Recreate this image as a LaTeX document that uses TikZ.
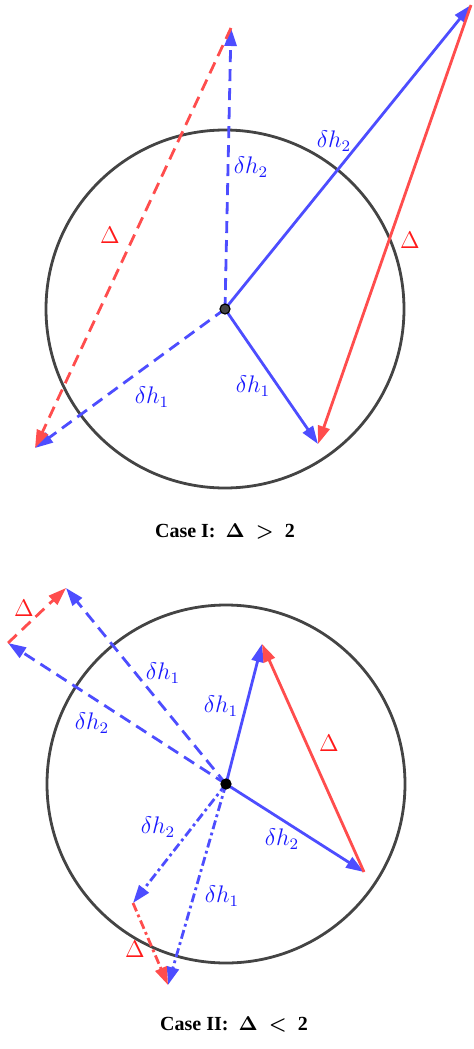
\documentclass[tikz,border=0pt]{standalone}
\usepackage{amsmath,amssymb}
\usepackage{fontspec}
\setmainfont{Liberation Serif}
\usetikzlibrary{arrows.meta}
\definecolor{Bc}{HTML}{4D4DFF}
\definecolor{Rc}{HTML}{FF4D4D}
\definecolor{Bt}{HTML}{1A1AFF}
\definecolor{Rt}{HTML}{FF1A1A}
\definecolor{rimc}{HTML}{444444}
\tikzset{
  vec/.style={-{Triangle[length=9pt, width=6pt]}, line width=1.4pt},
  bv/.style={vec, Bc},
  rv/.style={vec, Rc},
  dsh/.style={dash pattern=on 6pt off 3.5pt},
  dsd/.style={dash pattern=on 4.5pt off 1.8pt on 1.4pt off 1.8pt},
  rim/.style={draw=rimc, line width=1.4pt},
  hub/.style={circle, fill=#1, draw=black, line width=0.6pt, inner sep=0pt, minimum size=5pt},
  hub/.default=black,
  bl/.style={text=Bt, font=\large, inner sep=0pt},
  rl/.style={text=Rt, font=\large, inner sep=0pt},
  captxt/.style={font=\normalsize, text=black, inner sep=0pt},
}
\newcommand{\casehead}[2]{{\bfseries Case #1:}~~$\boldsymbol{\Delta}\;\boldsymbol{#2}\;\mathbf{2}$}

\begin{document}
\begin{tikzpicture}[x=0.5pt, y=-0.5pt]
  \useasboundingbox (0,0) rectangle (473,1049);
  % Case I
  \coordinate (o1) at (225,309);
  \coordinate (a1) at (318,444);
  \coordinate (b1) at (471,5);
  \coordinate (a1n) at (35,448);
  \coordinate (b1n) at (231,28);
  \draw[rim] (o1) circle[radius=179];
  \draw[bv] (o1) -- (a1);
  \draw[bv] (o1) -- (b1);
  \draw[rv] (b1) -- (a1);
  \draw[bv, dsh] (o1) -- (a1n);
  \draw[bv, dsh] (o1) -- (b1n);
  \draw[rv, dsh] (b1n) -- (a1n);
  \node[hub=rimc] (h1) at (o1) {};
  \node[bl] (la1) at (253,386) {$\delta h_1$};
  \node[bl] (lb1) at (334,141) {$\delta h_2$};
  \node[rl] (ld1) at (410,240) {$\Delta$};
  \node[bl] (la1n) at (152,397) {$\delta h_1$};
  \node[bl] (lb1n) at (251,167) {$\delta h_2$};
  \node[rl] (ld1n) at (110,235) {$\Delta$};
  \node[captxt] (t1) at (225,531) {\casehead{I}{>}};
  % Case II
  \coordinate (o2) at (226,784);
  \coordinate (a2) at (262,644);
  \coordinate (b2) at (364,872);
  \coordinate (a2n) at (66,588);
  \coordinate (b2n) at (8,643);
  \coordinate (a2d) at (168,985);
  \coordinate (b2d) at (133,903);
  \draw[rim] (o2) circle[radius=179];
  \draw[bv] (o2) -- (a2);
  \draw[bv] (o2) -- (b2);
  \draw[rv] (b2) -- (a2);
  \draw[bv, dsh] (o2) -- (a2n);
  \draw[bv, dsh] (o2) -- (b2n);
  \draw[rv, dsh] (b2n) -- (a2n);
  \draw[bv, dsd] (o2) -- (a2d);
  \draw[bv, dsd] (o2) -- (b2d);
  \draw[rv, dsd] (b2d) -- (a2d);
  \node[hub] (h2) at (o2) {};
  \node[bl] (la2) at (221,706) {$\delta h_1$};
  \node[bl] (lb2) at (282,839) {$\delta h_2$};
  \node[rl] (ld2) at (329,743) {$\Delta$};
  \node[bl] (la2n) at (163,673) {$\delta h_1$};
  \node[bl] (lb2n) at (92,723) {$\delta h_2$};
  \node[rl] (ld2n) at (24,608) {$\Delta$};
  \node[bl] (la2d) at (222,896) {$\delta h_1$};
  \node[bl] (lb2d) at (158,827) {$\delta h_2$};
  \node[rl] (ld2d) at (135,949) {$\Delta$};
  \node[captxt] (t2) at (234,1024) {\casehead{II}{<}};
\end{tikzpicture}
\end{document}
